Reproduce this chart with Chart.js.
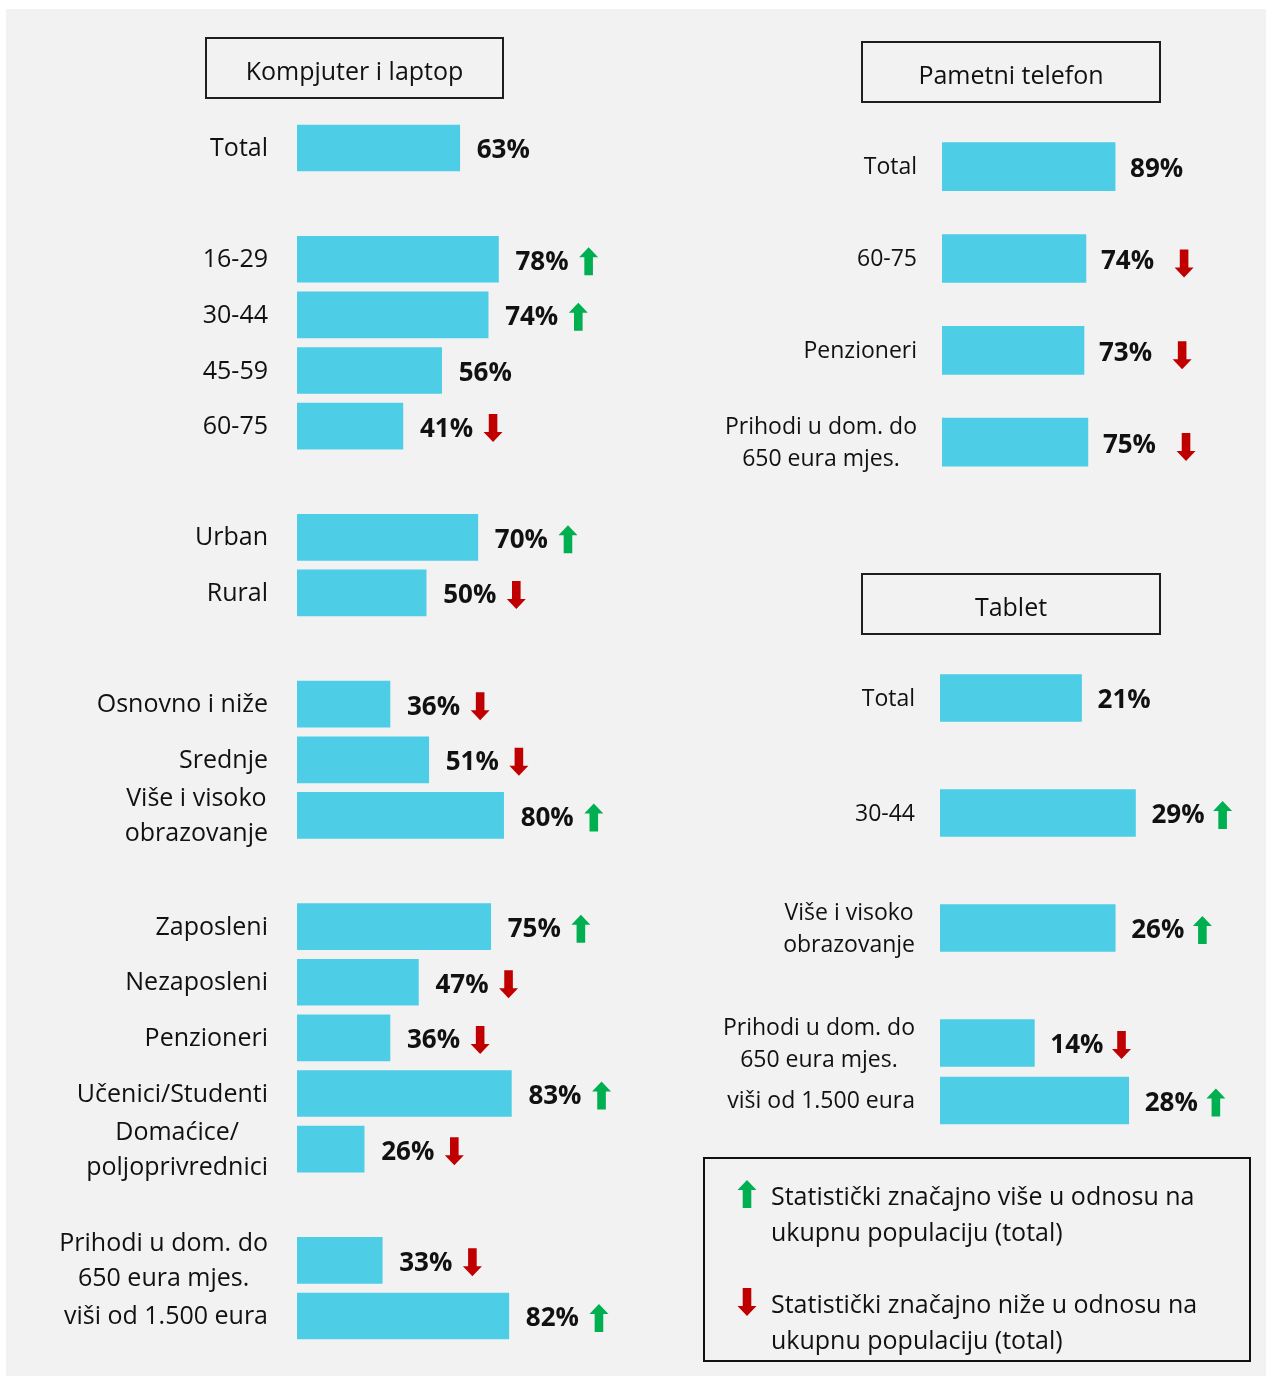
<!DOCTYPE html>
<html>
<head>
<meta charset="utf-8">
<script src="https://cdn.jsdelivr.net/npm/chart.js@4.4.1/dist/chart.umd.min.js"></script>
<style>
  html, body { margin: 0; padding: 0; background: #ffffff; }
  body { width: 1266px; height: 1376px; position: relative; overflow: hidden; font-family: "Open Sans", sans-serif; }
  #bg { position: absolute; left: 6px; top: 9px; width: 1260px; height: 1367px; background: #f2f2f2; }
  canvas { position: absolute; left: 0; top: 0; }
  .title { position: absolute; box-sizing: border-box; border: 2px solid #1e1e1e; display: flex; align-items: center; justify-content: center; font-size: 25px; color: #111; padding-top: 3px; }
  #legend { position: absolute; left: 703px; top: 1157px; width: 548px; height: 205px; box-sizing: border-box; border: 2.5px solid #111; }
  .leg { position: absolute; left: 66px; font-size: 25px; line-height: 36px; color: #111; white-space: nowrap; }
  .leg svg { position: absolute; left: -34px; top: 3px; }
</style>
</head>
<body>
<div id="bg"></div>
<canvas id="c1" width="1266" height="1376"></canvas>
<canvas id="c2" width="1266" height="1376"></canvas>
<canvas id="c3" width="1266" height="1376"></canvas>

<div class="title" style="left:205px;top:37px;width:299px;height:62px;">Kompjuter i laptop</div>
<div class="title" style="left:861px;top:41px;width:300px;height:62px;">Pametni telefon</div>
<div class="title" style="left:861px;top:573px;width:300px;height:62px;">Tablet</div>

<div id="legend">
  <div class="leg" style="top:18px;">
    <svg width="20" height="28" viewBox="0 0 20 28"><polygon points="10,0 19.5,10 14.3,10 14.3,28 5.7,28 5.7,10 0.5,10" fill="#00b050"/></svg>
    Statistički značajno više u odnosu na<br>ukupnu populaciju (total)
  </div>
  <div class="leg" style="top:126px;">
    <svg width="20" height="28" viewBox="0 0 20 28"><polygon points="10,28 19.5,18 14.3,18 14.3,0 5.7,0 5.7,18 0.5,18" fill="#c00000"/></svg>
    Statistički značajno niže u odnosu na<br>ukupnu populaciju (total)
  </div>
</div>

<script>
// ---------- DATA ----------
const compLabels = ['Total', '', '16-29', '30-44', '45-59', '60-75', '', 'Urban', 'Rural', '',
  'Osnovno i niže', 'Srednje', ['Više i visoko', 'obrazovanje'], '',
  'Zaposleni', 'Nezaposleni', 'Penzioneri', 'Učenici/Studenti', ['Domaćice/', 'poljoprivrednici'], '',
  ['Prihodi u dom. do', '650 eura mjes.'], 'viši od 1.500 eura'];
const compValues = [63, null, 78, 74, 56, 41, null, 70, 50, null,
  36, 51, 80, null,
  75, 47, 36, 83, 26, null,
  33, 82];
const compSig = ['', '', 'up', 'up', '', 'down', '', 'up', 'down', '',
  'down', 'down', 'up', '',
  'up', 'down', 'down', 'up', 'down', '',
  'down', 'up'];

const phoneLabels = ['Total', '60-75', 'Penzioneri', ['Prihodi u dom. do', '650 eura mjes.']];
const phoneValues = [89, 74, 73, 75];
const phoneSig = ['', 'down', 'down', 'down'];

const tabletLabels = ['Total', '', '30-44', '', ['Više i visoko', 'obrazovanje'], '',
  ['Prihodi u dom. do', '650 eura mjes.'], 'viši od 1.500 eura'];
const tabletValues = [21, null, 29, null, 26, null, 14, 28];
const tabletSig = ['', '', 'up', '', 'up', '', 'down', 'up'];

// ---------- STYLE ----------
const BAR = '#4ecde6';
const GREEN = '#00b050';
const RED = '#c00000';
const TEXT = '#111111';
const FONT = '"Open Sans", sans-serif';

function drawArrow(ctx, cx, cy, dir) {
  const H = 28, hw = 9.5, sw = 4.3, hh = 10;
  const top = cy - H / 2, bot = cy + H / 2;
  ctx.fillStyle = dir === 'up' ? GREEN : RED;
  ctx.beginPath();
  if (dir === 'up') {
    ctx.moveTo(cx, top);
    ctx.lineTo(cx + hw, top + hh);
    ctx.lineTo(cx + sw, top + hh);
    ctx.lineTo(cx + sw, bot);
    ctx.lineTo(cx - sw, bot);
    ctx.lineTo(cx - sw, top + hh);
    ctx.lineTo(cx - hw, top + hh);
  } else {
    ctx.moveTo(cx, bot);
    ctx.lineTo(cx + hw, bot - hh);
    ctx.lineTo(cx + sw, bot - hh);
    ctx.lineTo(cx + sw, top);
    ctx.lineTo(cx - sw, top);
    ctx.lineTo(cx - sw, bot - hh);
    ctx.lineTo(cx - hw, bot - hh);
  }
  ctx.closePath();
  ctx.fill();
}

const annotate = {
  id: 'annotate',
  afterDatasetsDraw(chart, args, o) {
    const ctx = chart.ctx;
    const area = chart.chartArea;
    const yScale = chart.scales.y;
    const meta = chart.getDatasetMeta(0);
    const data = chart.data.datasets[0].data;
    ctx.save();
    ctx.fillStyle = TEXT;
    ctx.textBaseline = 'middle';
    // category labels: block right-aligned, lines centered within block
    ctx.font = o.labelSize + 'px ' + FONT;
    chart.data.labels.forEach((lab, i) => {
      if (!lab || (Array.isArray(lab) && !lab.length)) return;
      const lines = Array.isArray(lab) ? lab : [lab];
      const y = yScale.getPixelForValue(i);
      const maxW = Math.max(...lines.map(l => ctx.measureText(l).width));
      const cx = area.left - o.labelGap - maxW / 2;
      ctx.textAlign = 'center';
      lines.forEach((l, k) => {
        ctx.fillText(l, cx, y + (k - (lines.length - 1) / 2) * o.lineHeight + 1);
      });
    });
    // value labels and arrows
    meta.data.forEach((bar, i) => {
      const v = data[i];
      if (v === null || v === undefined) return;
      const txt = v + '%';
      ctx.font = 'bold ' + o.valueSize + 'px ' + FONT;
      ctx.fillStyle = TEXT;
      ctx.textAlign = 'left';
      const x = bar.x + o.valueGap;
      ctx.fillText(txt, x, bar.y + 3);
      const w = ctx.measureText(txt).width;
      const s = o.sig[i];
      if (s) drawArrow(ctx, x + w + o.arrowGap, bar.y + o.arrowDy, s);
    });
    ctx.restore();
  }
};

function makeChart(id, labels, values, sig, cfg) {
  return new Chart(document.getElementById(id), {
    type: 'bar',
    data: {
      labels: labels,
      datasets: [{ data: values, backgroundColor: BAR, borderWidth: 0, barThickness: cfg.thickness }]
    },
    options: {
      indexAxis: 'y',
      responsive: false,
      animation: false,
      events: [],
      layout: { padding: cfg.padding },
      scales: {
        x: { display: false, min: 0, max: cfg.max },
        y: { display: false }
      },
      plugins: {
        legend: { display: false },
        tooltip: { enabled: false },
        annotate: {
          sig: sig,
          labelSize: cfg.labelSize,
          lineHeight: cfg.lineHeight,
          labelGap: cfg.labelGap,
          valueSize: 26,
          valueGap: cfg.valueGap,
          arrowGap: cfg.arrowGap,
          arrowDy: cfg.arrowDy
        }
      }
    },
    plugins: [annotate]
  });
}

makeChart('c1', compLabels, compValues, compSig, {
  max: 100, thickness: 46,
  padding: { left: 297, right: 1266 - 297 - 258.3, top: 120.2, bottom: 1376 - 1343.8 },
  labelSize: 25, lineHeight: 35, labelGap: 29, valueGap: 17, arrowGap: 20, arrowDy: 2
});

makeChart('c2', phoneLabels, phoneValues, phoneSig, {
  max: 100, thickness: 48,
  padding: { left: 942, right: 1266 - 942 - 194.5, top: 120.8, bottom: 1376 - 488 },
  labelSize: 23, lineHeight: 32, labelGap: 25, valueGap: 15, arrowGap: 30, arrowDy: 5
});

makeChart('c3', tabletLabels, tabletValues, tabletSig, {
  max: 30, thickness: 47,
  padding: { left: 940, right: 1266 - 940 - 202.2, top: 669.25, bottom: 1376 - 1129.25 },
  labelSize: 23, lineHeight: 32, labelGap: 25, valueGap: 16, arrowGap: 18, arrowDy: 2
});
</script>
</body>
</html>
